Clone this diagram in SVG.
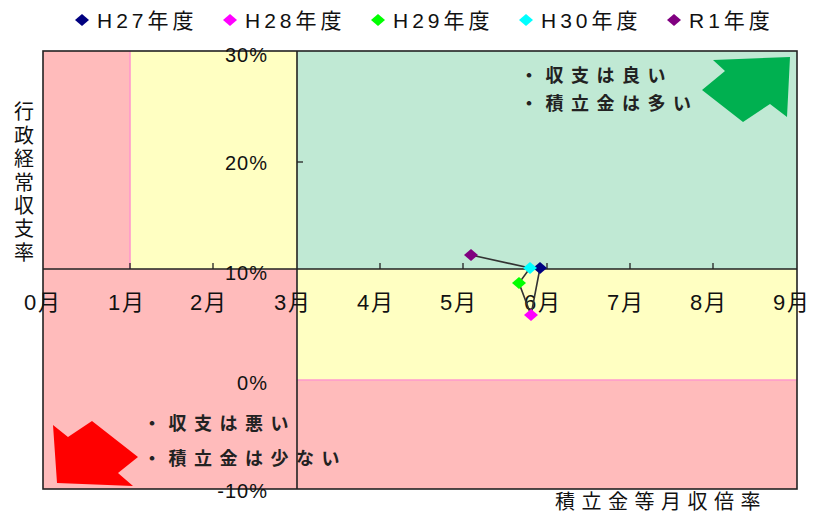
<svg xmlns="http://www.w3.org/2000/svg" width="816" height="513" viewBox="0 0 816 513">
<style>
.num{font-family:"Liberation Sans","Noto Sans CJK JP",sans-serif;font-size:20px;fill:#111}
.mon{font-family:"Liberation Sans","Noto Sans CJK JP",sans-serif;font-size:22px;letter-spacing:2px;fill:#111}
.jp{font-family:"Liberation Sans","Noto Sans CJK JP",sans-serif;fill:#111}
.q{font-size:18px;letter-spacing:7.5px;font-weight:bold;fill:#222}
.leg{font-size:21px;letter-spacing:4px}
.ax{stroke:#222;stroke-width:1.6;fill:none}
.tick{stroke:#222;stroke-width:1.3}
.pk{stroke:#FF99CC;stroke-width:1.6}
</style>
<defs>
<path id="dm" d="M0,-6 L7,0 L0,6 L-7,0 Z"/>
</defs>
<rect width="816" height="513" fill="#fff"/>
<g id="regions">
<rect x="43" y="51" width="87" height="218" fill="#FFBBBB"/>
<rect x="130" y="51" width="167" height="218" fill="#FFFFC2"/>
<rect x="297" y="51" width="500" height="218" fill="#C0E9D4"/>
<rect x="43" y="269" width="254" height="220" fill="#FFBBBB"/>
<rect x="297" y="269" width="500" height="111" fill="#FFFFC2"/>
<rect x="297" y="380" width="500" height="109" fill="#FFBBBB"/>
<line class="pk" x1="130" y1="51" x2="130" y2="269"/>
<line class="pk" x1="297" y1="380" x2="797" y2="380"/>
</g>
<g id="arrows">
<polygon points="790,57 713,60 725,71 702,90 743,122 770,104 787,117" fill="#00B050"/>
<polygon points="53,425 68,437 92,421 138,457 118,473 133,486 57,483" fill="#FF0000"/>
</g>
<g id="axes">
<rect class="ax" x="43" y="51" width="754" height="438"/>
<line class="ax" x1="43" y1="269" x2="797" y2="269"/>
<line class="ax" x1="297" y1="51" x2="297" y2="489"/>
<line class="tick" x1="297" y1="162" x2="303" y2="162"/>
<g class="tick">
<line x1="130" y1="269" x2="130" y2="263"/>
<line x1="213" y1="269" x2="213" y2="263"/>
<line x1="380" y1="269" x2="380" y2="263"/>
<line x1="463" y1="269" x2="463" y2="263"/>
<line x1="547" y1="269" x2="547" y2="263"/>
<line x1="630" y1="269" x2="630" y2="263"/>
<line x1="713" y1="269" x2="713" y2="263"/>
</g>
</g>
<g id="y-labels" class="num" text-anchor="end">
<text x="268" y="62" letter-spacing="1">30%</text>
<text x="268" y="170" letter-spacing="1">20%</text>
<text x="268" y="280" letter-spacing="1">10%</text>
<text x="268" y="390" letter-spacing="1">0%</text>
<text x="268" y="498" letter-spacing="1">-10%</text>
</g>
<g id="x-labels" class="mon" text-anchor="middle">
<text x="43" y="310">0月</text>
<text x="127" y="310">1月</text>
<text x="209" y="310">2月</text>
<text x="293" y="310">3月</text>
<text x="376" y="310">4月</text>
<text x="459" y="310">5月</text>
<text x="543" y="310">6月</text>
<text x="626" y="310">7月</text>
<text x="709" y="310">8月</text>
<text x="792" y="310">9月</text>
</g>
<g id="y-title" class="jp" font-size="20" text-anchor="middle">
<text x="24" y="119">行</text>
<text x="24" y="143">政</text>
<text x="24" y="166">経</text>
<text x="24" y="190">常</text>
<text x="24" y="213">収</text>
<text x="24" y="236">支</text>
<text x="24" y="260">率</text>
</g>
<text id="x-title" class="jp" font-size="20" letter-spacing="6.5" x="555" y="509">積立金等月収倍率</text>
<g id="note-good" class="jp q">
<text x="520" y="82">・収支は良い</text>
<text x="520" y="110">・積立金は多い</text>
</g>
<g id="note-bad" class="jp q">
<text x="143" y="430">・収支は悪い</text>
<text x="143" y="465">・積立金は少ない</text>
</g>
<g id="connectors">
<polyline points="540,268 531,315 519,283 530,268 471,255" fill="none" stroke="#333" stroke-width="1.6"/>
</g>
<g id="H27"><use href="#dm" x="540" y="268" fill="#000080"/></g>
<g id="H28"><use href="#dm" x="531" y="315" fill="#FF00FF"/></g>
<g id="H29"><use href="#dm" x="519" y="283" fill="#00FF00"/></g>
<g id="H30"><use href="#dm" x="530" y="268" fill="#00FFFF"/></g>
<g id="R1"><use href="#dm" x="471" y="255" fill="#800080"/></g>
<g id="legend" class="jp leg">
<use href="#dm" x="82" y="20" fill="#000080"/><text x="97" y="28">H27年度</text>
<use href="#dm" x="230" y="20" fill="#FF00FF"/><text x="245" y="28">H28年度</text>
<use href="#dm" x="378" y="20" fill="#00FF00"/><text x="393" y="28">H29年度</text>
<use href="#dm" x="526" y="20" fill="#00FFFF"/><text x="541" y="28">H30年度</text>
<use href="#dm" x="674" y="20" fill="#800080"/><text x="689" y="28">R1年度</text>
</g>
</svg>
